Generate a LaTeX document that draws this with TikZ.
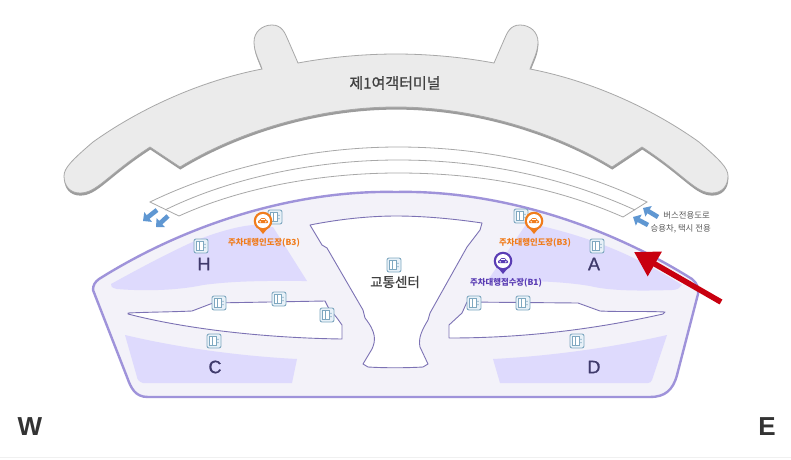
\documentclass[tikz,border=0pt]{standalone}
\usepackage{fontspec}
\setmainfont{Liberation Sans}
\newfontfamily\krfont{Noto Sans CJK KR}
\newfontfamily\krmedium[FakeBold=0.8]{Noto Sans CJK KR}
\newfontfamily\zonefont[FakeBold=0.9]{Liberation Sans}
\usetikzlibrary{arrows.meta}

\definecolor{termfill}{HTML}{EBEBEB}
\definecolor{termline}{HTML}{A8A8A8}
\definecolor{termshadow}{HTML}{9C9C9C}
\definecolor{floorfill}{HTML}{F3F2F9}
\definecolor{floorline}{HTML}{9F93DA}
\definecolor{innerline}{HTML}{7C72B4}
\definecolor{zonefill}{HTML}{DEDAFD}
\definecolor{zonetext}{HTML}{3F3A6B}
\definecolor{liftline}{HTML}{7FA8C0}
\definecolor{liftfill}{HTML}{E8F1F8}
\definecolor{pinorange}{HTML}{F07C1C}
\definecolor{pinpurple}{HTML}{5A3DB4}
\definecolor{busblue}{HTML}{5F97D2}
\definecolor{redmark}{HTML}{C8000F}

\tikzset{
  zone/.style={fill=zonefill, draw=none},
  strip/.style={fill=white, draw=innerline, line width=0.9pt, line join=round},
  zonelabel/.style={font=\zonefont\fontsize{18}{18}\selectfont, text=zonetext},
  pinlabel/.style={font=\krfont\bfseries\fontsize{8.4}{9}\selectfont, inner sep=0pt},
  roadnote/.style={font=\krfont\fontsize{8.4}{9}\selectfont, text=black!65, inner sep=0pt, anchor=east},
  busarrow/.style={draw=busblue, line width=4.6pt, -{Triangle[length=6.5pt,width=12pt]}},
  lift/.pic={
    \draw[rounded corners=2pt, line width=0.9pt, draw=liftline, fill=liftfill] (-7,-7) rectangle (7,7);
    \draw[line width=0.7pt, draw=liftline, fill=white] (-4.5,-4.5) rectangle (-1.2,4.5);
    \draw[line width=0.7pt, draw=liftline, fill=white] (-1.2,-4.5) rectangle (2,4.5);
    \fill[liftline] (4,-1.6) circle (0.7);
    \fill[liftline] (4,1.6) circle (0.7);
  },
  pin/.pic={
    \fill[#1] (-8.2,3) -- (0,13) -- (8.2,3) -- cycle;
    \fill[#1] (0,0) circle (9.3);
    \fill[white] (0,0) circle (7);
    \fill[#1, rounded corners=0.8pt] (-5,2.2) -- (-5,-0.3) -- (-3,-1) -- (-2,-3) -- (2,-3) -- (3,-1) -- (5,-0.3) -- (5,2.2) -- cycle;
    \fill[white] (-1.8,-1) rectangle (-0.2,-2.2);
    \fill[white] (0.2,-1) rectangle (1.8,-2.2);
    \fill[white] (-2.8,0.8) circle (0.8);
    \fill[white] (2.8,0.8) circle (0.8);
  }
}

\def\termpath{(64,176) .. controls (64,168) and (72,160) .. (93,142)
  .. controls (135,112) and (195,82) .. (262,69)
  .. controls (259,60) and (254,52) .. (254,42)
  .. controls (254,32) and (262,25) .. (272,25)
  .. controls (282,25) and (285,33) .. (288,40) -- (298,63)
  .. controls (330,57) and (365,54) .. (396,54)
  .. controls (427,54) and (462,57) .. (494,63) -- (504,40)
  .. controls (507,33) and (510,25) .. (520,25)
  .. controls (530,25) and (538,32) .. (538,42)
  .. controls (538,52) and (533,60) .. (530,69)
  .. controls (597,82) and (657,112) .. (699,142)
  .. controls (720,160) and (728,168) .. (728,176)
  .. controls (728,186) and (722,193) .. (712,193)
  .. controls (695,193) and (685,175) .. (642,147) -- (612,167)
  .. controls (560,135) and (480,107) .. (396,107)
  .. controls (312,107) and (232,135) .. (180,167) -- (150,147)
  .. controls (107,175) and (97,193) .. (80,193)
  .. controls (70,193) and (64,186) .. (64,176) -- cycle}

\begin{document}
\begin{tikzpicture}[x=1pt, y=-1pt]
\useasboundingbox (0,0) rectangle (791,459);
\fill[white] (0,0) rectangle (791,459);
\draw[black!6, line width=1pt] (0,457.5) -- (791,457.5);

%Terminal
\fill[termshadow, shift={(0.3,2.6)}] \termpath;
\draw[fill=termfill, draw=termline, line width=0.8pt] \termpath;
\node[font=\krmedium\fontsize{15}{15}\selectfont, text=black!75] (terminal) at (395,83) {제1여객터미널};

%Road
\draw[fill=white, draw=termline, line width=0.8pt] (150,202) .. controls (220,168) and (310,147) .. (398,147)
  .. controls (490,147) and (575,168) .. (647,202) -- (623,217)
  .. controls (555,187) and (480,173) .. (398,173)
  .. controls (320,173) and (240,188) .. (179,216) -- cycle;
\draw[draw=termline, line width=0.8pt] (165,210) .. controls (230,178) and (315,160) .. (398,160)
  .. controls (485,160) and (565,178) .. (635,210);

%Floor
\draw[fill=floorfill, draw=floorline, line width=2.4pt, line join=round] (93,290)
  .. controls (93,285) and (95,282) .. (99,279)
  .. controls (201,215) and (311,190) .. (396,192)
  .. controls (480,190) and (590,215) .. (692,279)
  .. controls (697,283) and (699,288) .. (698,294) -- (677,375)
  .. controls (673,390) and (665,397) .. (650,397) -- (148,397)
  .. controls (135,397) and (131,388) .. (127,377) -- cycle;

%Parking zones
\fill[zone] (111,284) .. controls (140,268) and (170,252) .. (197,240)
  .. controls (220,231) and (240,226) .. (253,225) -- (273,227) -- (307,281)
  .. controls (280,281) and (240,280) .. (203,285)
  .. controls (175,291) and (140,291) .. (117,289) .. controls (112,288) and (110,286) .. (111,284) -- cycle;
\fill[zone] (125,335) .. controls (180,348) and (240,356) .. (297,359) -- (292,383) -- (143,383)
  .. controls (139,382) and (137,379) .. (137,377) -- cycle;
\fill[zone] (488,280) -- (527,223) -- (537,225) .. controls (590,237) and (635,255) .. (682,285)
  .. controls (680,288) and (677,290) .. (672,290)
  .. controls (640,291) and (610,291) .. (590,286)
  .. controls (560,281) and (530,281) .. (488,280) -- cycle;
\fill[zone] (493,359) .. controls (550,356) and (610,348) .. (667,335) -- (652,380)
  .. controls (651,382) and (650,383) .. (648,383) -- (500,383) -- cycle;

%Transport center
\draw[strip] (310,225) .. controls (340,219) and (370,216) .. (396,216)
  .. controls (425,216) and (455,219) .. (482,223) -- (480,230) -- (467,247) -- (430,313) -- (428,320)
  .. controls (422,330) and (418,338) .. (420,347) -- (428,364) -- (423,367)
  .. controls (405,368) and (385,368) .. (368,367) -- (363,364) -- (372,349)
  .. controls (376,340) and (376,332) .. (365,318) -- (363,310) -- (327,248) -- (322,245) -- cycle;

%Left and right strips
\draw[strip] (128,313) .. controls (150,312) and (170,312) .. (192,311) -- (213,303) -- (325,301) -- (328,307) -- (337,318) -- (342,325) -- (342,339)
  .. controls (270,338) and (190,330) .. (128,314) -- cycle;
\draw[strip] (449,325) -- (462,313) -- (467,302) -- (578,303) -- (600,311) .. controls (620,312) and (645,311) .. (665,312) -- (663,314)
  .. controls (600,328) and (530,338) .. (449,338) -- cycle;

%Lifts
\foreach \lx/\ly in {275/217, 201/246, 219/303, 279/299, 327/315, 214/341, 521/216, 597/246, 394/265, 474/303, 523/303, 577/341}
  \pic at (\lx,\ly) {lift};

%Pins
\pic at (263,221) {pin=pinorange};
\pic at (534,221) {pin=pinorange};
\pic at (503,261) {pin=pinpurple};
\node[pinlabel, text=pinorange] (dropH) at (264,243) {주차대행인도장(B3)};
\node[pinlabel, text=pinorange] (dropA) at (535,243) {주차대행인도장(B3)};
\node[pinlabel, text=pinpurple] (dropB) at (506,283) {주차대행접수장(B1)};

%Zone names
\node[zonelabel] (zoneH) at (204,264) {H};
\node[zonelabel] (zoneA) at (594,264) {A};
\node[zonelabel] (zoneC) at (215,367) {C};
\node[zonelabel] (zoneD) at (594,367) {D};
\node[font=\krmedium\fontsize{13.5}{14}\selectfont, text=black!75] (center) at (395,282) {교통센터};

%Bus arrows
\coordinate (busAa) at (157,210);
\coordinate (busAb) at (143,221);
\coordinate (busBa) at (168,216);
\coordinate (busBb) at (156,227);
\coordinate (busCa) at (658,217);
\coordinate (busCb) at (643,208);
\coordinate (busDa) at (648,225);
\coordinate (busDb) at (633,217);
\draw[busarrow] (busAa) -- (busAb);
\draw[busarrow] (busBa) -- (busBb);
\draw[busarrow] (busCa) -- (busCb);
\draw[busarrow] (busDa) -- (busDb);
\node[roadnote] (busnote) at (710,215) {버스전용도로};
\node[roadnote] (carnote) at (711,229) {승용차, 택시 전용};

%Red arrow
\coordinate (redtail) at (721,302);
\coordinate (redtip) at (634,252);
\draw[draw=redmark, line width=5.6pt, -{Triangle[length=24pt,width=27pt]}] (redtail) -- (redtip);

%Compass
\node[font=\bfseries\fontsize{26}{26}\selectfont, text=black!80] (west) at (30,427) {W};
\node[font=\bfseries\fontsize{26}{26}\selectfont, text=black!80] (east) at (767,427) {E};
\end{tikzpicture}
\end{document}
